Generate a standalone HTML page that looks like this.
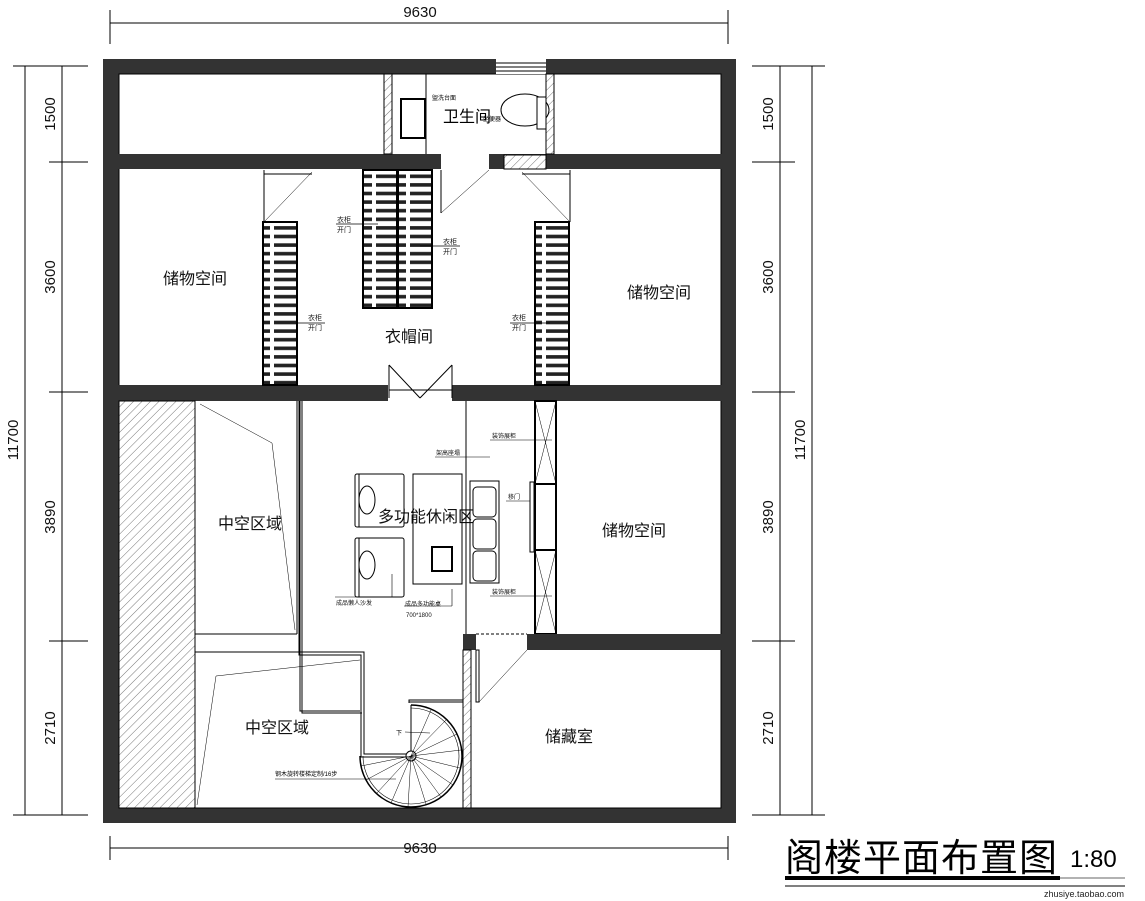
<!DOCTYPE html>
<html><head><meta charset="utf-8"><style>
html,body{margin:0;padding:0;background:#fff;}
svg{display:block;}
text{font-family:"Liberation Sans","Noto Sans CJK SC",sans-serif;}
</style></head><body>
<svg width="1145" height="901" viewBox="0 0 1145 901" xmlns="http://www.w3.org/2000/svg">
<defs>
<pattern id="h" width="6" height="6" patternUnits="userSpaceOnUse" patternTransform="rotate(45)">
<rect width="6" height="6" fill="#fff"/><line x1="0" y1="0" x2="0" y2="6" stroke="#777" stroke-width="1"/></pattern>
<pattern id="w" width="34" height="8.6" patternUnits="userSpaceOnUse">
<rect width="34" height="8.6" fill="#fff"/><rect x="2" y="2.5" width="30" height="3.6" fill="#222"/></pattern>
</defs>
<g stroke="#000" stroke-width="1" fill="none">
<!-- top dim -->
<line x1="110" y1="23" x2="728" y2="23"/><line x1="110" y1="10" x2="110" y2="44"/><line x1="728" y1="10" x2="728" y2="44"/>
<!-- bottom dim -->
<line x1="110" y1="848" x2="728" y2="848"/><line x1="110" y1="836" x2="110" y2="860"/><line x1="728" y1="836" x2="728" y2="860"/>
<!-- left dims -->
<line x1="25" y1="66" x2="25" y2="815"/><line x1="62" y1="66" x2="62" y2="815"/>
<line x1="13" y1="66" x2="88" y2="66"/><line x1="13" y1="815" x2="88" y2="815"/>
<line x1="49" y1="162" x2="88" y2="162"/><line x1="49" y1="392" x2="88" y2="392"/><line x1="49" y1="641" x2="88" y2="641"/>
<!-- right dims -->
<line x1="780" y1="66" x2="780" y2="815"/><line x1="812" y1="66" x2="812" y2="815"/>
<line x1="752" y1="66" x2="825" y2="66"/><line x1="752" y1="815" x2="825" y2="815"/>
<line x1="752" y1="162" x2="795" y2="162"/><line x1="752" y1="392" x2="795" y2="392"/><line x1="752" y1="641" x2="795" y2="641"/>
</g>
<g font-size="15" fill="#111">
<text x="420" y="17" text-anchor="middle">9630</text>
<text x="420" y="853" text-anchor="middle">9630</text>
<text transform="translate(55,114) rotate(-90)" text-anchor="middle">1500</text>
<text transform="translate(55,277) rotate(-90)" text-anchor="middle">3600</text>
<text transform="translate(55,517) rotate(-90)" text-anchor="middle">3890</text>
<text transform="translate(55,728) rotate(-90)" text-anchor="middle">2710</text>
<text transform="translate(18,440) rotate(-90)" text-anchor="middle">11700</text>
<text transform="translate(773,114) rotate(-90)" text-anchor="middle">1500</text>
<text transform="translate(773,277) rotate(-90)" text-anchor="middle">3600</text>
<text transform="translate(773,517) rotate(-90)" text-anchor="middle">3890</text>
<text transform="translate(773,728) rotate(-90)" text-anchor="middle">2710</text>
<text transform="translate(805,440) rotate(-90)" text-anchor="middle">11700</text>
</g>
<!-- outer walls -->
<rect x="103" y="59" width="633" height="764" fill="#333"/>
<rect x="119" y="74" width="602" height="734" fill="#fff" stroke="#000"/>
<!-- top window -->
<rect x="496" y="59" width="50" height="15" fill="#fff"/>
<g stroke="#000"><line x1="496" y1="63" x2="546" y2="63"/><line x1="496" y1="67" x2="546" y2="67"/><line x1="496" y1="71" x2="546" y2="71"/></g>
<!-- wall y 154-169 -->
<rect x="103" y="154" width="338" height="15" fill="#333"/>
<rect x="489" y="154" width="247" height="15" fill="#333"/>
<rect x="504" y="155" width="42" height="14" fill="url(#h)" stroke="#000"/>
<!-- bathroom walls -->
<rect x="384" y="74" width="8" height="80" fill="url(#h)" stroke="#000"/>
<rect x="546" y="74" width="8" height="80" fill="url(#h)" stroke="#000"/>
<line x1="426" y1="74" x2="426" y2="154" stroke="#000"/>
<rect x="401" y="99" width="24" height="39" fill="none" stroke="#000" stroke-width="2"/>
<ellipse cx="525" cy="110" rx="24" ry="16" fill="#fff" stroke="#000"/>
<rect x="537" y="97" width="9" height="32" fill="#fff" stroke="#000"/>
<text x="443" y="122" font-size="16">卫生间</text>
<text x="432" y="100" font-size="6">盥洗台面</text>
<text x="483" y="121" font-size="6">坐便器</text>
<!-- middle wall y 385-401 -->
<rect x="103" y="385" width="285" height="16" fill="#333"/>
<rect x="452" y="385" width="284" height="16" fill="#333"/>
<g stroke="#000" fill="none" stroke-width="1">
<line x1="389" y1="365" x2="389" y2="398"/><line x1="452" y1="365" x2="452" y2="398"/>
<line x1="389" y1="365" x2="420" y2="398"/><line x1="452" y1="365" x2="420" y2="398"/>
<line x1="389" y1="390" x2="452" y2="390"/>
<!-- upper doors -->
<line x1="441" y1="170" x2="441" y2="213"/><line x1="441" y1="213" x2="489" y2="170" stroke-width="0.5"/>
<line x1="264" y1="170" x2="264" y2="222"/><line x1="264" y1="222" x2="312" y2="172" stroke-width="0.5"/><line x1="264" y1="174" x2="312" y2="174"/>
<line x1="570" y1="170" x2="570" y2="222"/><line x1="570" y1="222" x2="522" y2="172" stroke-width="0.5"/><line x1="522" y1="174" x2="570" y2="174"/>
</g>
<!-- wardrobes -->
<rect x="263" y="222" width="34" height="163" fill="url(#w)" stroke="#000" stroke-width="2"/>
<rect x="535" y="222" width="34" height="163" fill="url(#w)" stroke="#000" stroke-width="2"/>
<rect x="363" y="170" width="34" height="138" fill="url(#w)" stroke="#000" stroke-width="2"/>
<rect x="398" y="170" width="34" height="138" fill="url(#w)" stroke="#000" stroke-width="2"/>
<g font-size="7" fill="#111">
<text x="337" y="222">衣柜</text><text x="337" y="232">开门</text>
<text x="443" y="244">衣柜</text><text x="443" y="254">开门</text>
<text x="308" y="320">衣柜</text><text x="308" y="330">开门</text>
<text x="512" y="320">衣柜</text><text x="512" y="330">开门</text>
</g>
<g stroke="#000" stroke-width="0.8"><line x1="336" y1="224" x2="378" y2="224"/><line x1="420" y1="246" x2="460" y2="246"/><line x1="297" y1="323" x2="325" y2="323"/><line x1="510" y1="323" x2="550" y2="323"/></g>
<g font-size="16" fill="#111">
<text x="163" y="284">储物空间</text>
<text x="627" y="298">储物空间</text>
<text x="385" y="342">衣帽间</text>
<text x="602" y="536">储物空间</text>
<text x="218" y="529">中空区域</text>
<text x="245" y="733">中空区域</text>
<text x="545" y="742">储藏室</text>
<text x="378" y="522">多功能休闲区</text>
</g>
<!-- lower left -->
<rect x="119" y="401" width="76" height="407" fill="url(#h)" stroke="#000"/>
<g stroke="#000" fill="none">
<line x1="195" y1="401" x2="195" y2="808"/>
<line x1="195" y1="634" x2="297" y2="634"/>
<line x1="195" y1="652" x2="360" y2="652"/>
<polyline points="297,401 297,634"/>
<polyline points="300,401 300,711 360,711"/>
<polyline points="300,401 300,711 360,711" transform="translate(2,2)"/>
<path d="M300 401 V711" />
<polyline points="360,655 360,840" stroke="none"/>
<line x1="200" y1="404" x2="272" y2="443" stroke-width="0.5"/><line x1="272" y1="443" x2="295" y2="630" stroke-width="0.5"/>
<line x1="360" y1="660" x2="216" y2="676" stroke-width="0.5"/><line x1="216" y1="676" x2="197" y2="805" stroke-width="0.5"/>
</g>
<!-- corridor boundary -->
<g stroke="#000" fill="none" stroke-width="1">
<polyline points="299,401 299,655 361,655 361,757 410,757"/>
<polyline points="302,401 302,652 364,652 364,754 410,754"/>
<line x1="466" y1="401" x2="466" y2="634"/>
</g>
<!-- spiral stair -->
<g stroke="#000" fill="none">
<path d="M411 705 A51 51 0 1 1 360 756" stroke-width="1.5"/>
<path d="M411 708 A48 48 0 1 1 363 756" stroke-width="0.6"/>
<line x1="411" y1="705" x2="411" y2="756"/>
<polyline points="409,703 409,700 463,700 463,702 409,702"/>
<circle cx="411" cy="756" r="5" fill="#fff"/>
<g stroke-width="0.5">
<line x1="411" y1="756" x2="431" y2="710"/><line x1="411" y1="756" x2="447" y2="719"/><line x1="411" y1="756" x2="457" y2="734"/><line x1="411" y1="756" x2="461" y2="750"/><line x1="411" y1="756" x2="460" y2="768"/><line x1="411" y1="756" x2="453" y2="785"/><line x1="411" y1="756" x2="441" y2="797"/><line x1="411" y1="756" x2="426" y2="804"/><line x1="411" y1="756" x2="408" y2="807"/><line x1="411" y1="756" x2="391" y2="803"/><line x1="411" y1="756" x2="376" y2="794"/><line x1="411" y1="756" x2="366" y2="780"/><line x1="411" y1="756" x2="361" y2="766"/>
</g>
<line x1="405" y1="732" x2="430" y2="733" stroke-width="0.6"/>
<line x1="275" y1="779" x2="396" y2="779" stroke-width="0.6"/>
</g>
<text x="396" y="735" font-size="6">下</text>
<text x="275" y="776" font-size="6">钢木旋转楼梯定制/16步</text>
<!-- furniture -->
<g stroke="#000" fill="none">
<rect x="355" y="474" width="49" height="53" rx="2"/><line x1="359" y1="474" x2="359" y2="527"/><ellipse cx="367" cy="500" rx="8" ry="14"/>
<rect x="355" y="538" width="49" height="59" rx="2"/><line x1="359" y1="538" x2="359" y2="597"/><ellipse cx="367" cy="565" rx="8" ry="14"/>
<rect x="413" y="474" width="49" height="110"/>
<rect x="432" y="547" width="20" height="24" stroke-width="2"/>
<rect x="470" y="481" width="29" height="102"/>
<rect x="473" y="487" width="23" height="30" rx="4"/><rect x="473" y="519" width="23" height="30" rx="4"/><rect x="473" y="551" width="23" height="30" rx="4"/>
<rect x="535" y="401" width="21" height="233" stroke-width="2"/>
<line x1="535" y1="484" x2="556" y2="484" stroke-width="2"/><line x1="535" y1="550" x2="556" y2="550" stroke-width="2"/>
<g stroke-width="0.5"><line x1="535" y1="401" x2="556" y2="484"/><line x1="556" y1="401" x2="535" y2="484"/><line x1="535" y1="550" x2="556" y2="634"/><line x1="556" y1="550" x2="535" y2="634"/></g>
<rect x="530" y="482" width="4" height="70"/>
<g stroke-width="0.6"><line x1="335" y1="597" x2="392" y2="597"/><line x1="392" y1="597" x2="392" y2="574"/><line x1="404" y1="606" x2="452" y2="606"/><line x1="452" y1="606" x2="452" y2="589"/>
<line x1="435" y1="457" x2="490" y2="457"/><line x1="490" y1="440" x2="552" y2="440"/><line x1="490" y1="596" x2="552" y2="596"/><line x1="506" y1="501" x2="530" y2="501"/></g>
</g>
<g font-size="6" fill="#111">
<text x="336" y="605">成品懒人沙发</text><text x="405" y="606">成品多功能桌</text><text x="406" y="617">700*1800</text>
<text x="436" y="455">架高座塌</text><text x="492" y="438">装饰展柜</text><text x="492" y="594">装饰展柜</text><text x="508" y="499">移门</text>
</g>
<!-- lower walls -->
<rect x="463" y="634" width="13" height="16" fill="#333"/>
<rect x="527" y="634" width="209" height="16" fill="#333"/>
<rect x="463" y="650" width="8" height="158" fill="url(#h)" stroke="#000"/>
<g stroke="#000" fill="none"><line x1="476" y1="634" x2="527" y2="634" stroke-dasharray="3,2"/><rect x="476" y="650" width="3" height="52"/><line x1="479" y1="702" x2="527" y2="650" stroke-width="0.5"/></g>
<!-- title -->
<text x="785" y="871" font-size="38" fill="#000" letter-spacing="1">阁楼平面布置图</text>
<text x="1070" y="867" font-size="24" fill="#000">1:80</text>
<rect x="785" y="876" width="275" height="4" fill="#000"/>
<line x1="1060" y1="878" x2="1125" y2="878" stroke="#666" stroke-width="1"/>
<line x1="785" y1="886" x2="1125" y2="886" stroke="#000" stroke-width="1"/>
<text x="1044" y="897" font-size="9" fill="#222">zhusiye.taobao.com</text>
</svg>
</body></html>
